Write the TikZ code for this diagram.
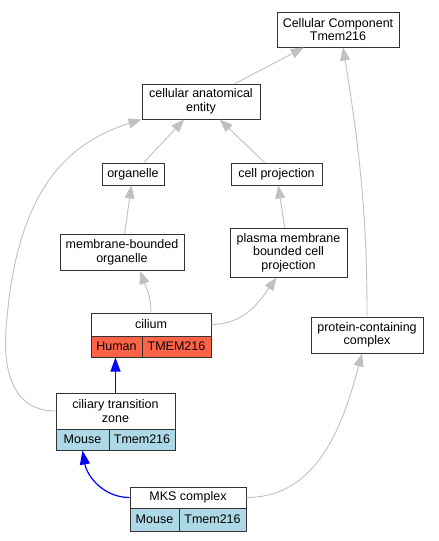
\documentclass[tikz,border=0pt]{standalone}
\usepackage{fontspec}
\setmainfont{Liberation Sans}
\usetikzlibrary{arrows.meta,positioning,calc}
\definecolor{isagray}{HTML}{C0C0C0}
\definecolor{humanred}{HTML}{FF6347}
\definecolor{mouseblue}{HTML}{ADD8E6}
\tikzset{term/.style={draw=black!80,line width=1pt,fill=white,inner sep=0pt,align=center,font=\fontsize{12.5}{13.5}\selectfont},
  cell/.style={term,minimum height=21pt},
  isa/.style={draw=isagray,line width=0.9pt,-{Triangle[length=13pt,width=10pt]}},
  orth/.style={draw=blue,line width=1.2pt,-{Triangle[length=14pt,width=10pt]}}}

\begin{document}
\begin{tikzpicture}[x=1pt,y=-1pt]
\useasboundingbox (0,0) rectangle (439,541);
\node (cc) at (338,29.5)[term,minimum width=122pt,minimum height=35pt] {Cellular Component\\Tmem216};
\node (cae) at (201,101.5)[term,minimum width=118pt,minimum height=35pt] {cellular anatomical\\entity};
\node (org) at (133,174)[term,minimum width=62pt,minimum height=22pt] {organelle};
\node (cproj) at (276.5,174)[term,minimum width=91pt,minimum height=22pt] {cell projection};
\node (mbo) at (122,252.5)[term,minimum width=124pt,minimum height=36pt] {membrane-bounded\\organelle};
\node (pmbcp) at (288.5,252.5)[term,minimum width=117pt,minimum height=49pt] {plasma membrane\\bounded cell\\projection};
\node (pcc) at (367,335)[term,minimum width=112pt,minimum height=36pt] {protein-containing\\complex};

% cilium record
\node (cilium) at (151,324.5)[term,minimum width=120pt,minimum height=23pt] {cilium};
\node (cilium human) at (116.5,346.5)[cell,fill=humanred,minimum width=51pt] {Human};
\node (cilium gene) at (176.5,346.5)[cell,fill=humanred,minimum width=69pt] {TMEM216};

% ciliary transition zone record
\node (ctz) at (115.5,411)[term,minimum width=119pt,minimum height=36pt] {ciliary transition\\zone};
\node (ctz mouse) at (82.5,439.5)[cell,fill=mouseblue,minimum width=53pt] {Mouse};
\node (ctz gene) at (142,439.5)[cell,fill=mouseblue,minimum width=66pt] {Tmem216};

% MKS complex record
\node (mks) at (188,497.5)[term,minimum width=116pt,minimum height=21pt] {MKS complex};
\node (mks mouse) at (154.5,519.5)[cell,fill=mouseblue,minimum width=49pt,minimum height=23pt] {Mouse};
\node (mks gene) at (212.5,519.5)[cell,fill=mouseblue,minimum width=67pt,minimum height=23pt] {Tmem216};

\draw[isa] (cae) -- (cc);
\draw[isa] (org) -- (cae);
\draw[isa] (cproj) -- (cae);
\draw[isa] (mbo) -- (org);
\draw[isa] (pmbcp) -- (cproj);
\draw[isa] (cilium.north) to[out=90,in=-70] ([xshift=18pt]mbo.south);
\draw[isa] (cilium.east) to[out=0,in=-125] ([xshift=-12pt]pmbcp.south);
\draw[isa] (ctz.west) .. controls (15,411) and (3,375) .. (6,330)
  .. controls (15,200) and (60,145) .. (cae.south west);
\draw[isa] (pcc.north) .. controls (367,250) and (365,180) .. ([xshift=5pt]cc.south);
\draw[isa] (mks.east) to[out=0,in=-105] ([xshift=-5pt]pcc.south);

\draw[orth] (ctz.north) -- (ctz.north |- cilium human.south);
\draw[orth] (mks.west) to[out=180,in=-80] (ctz mouse.south);
\end{tikzpicture}
\end{document}
